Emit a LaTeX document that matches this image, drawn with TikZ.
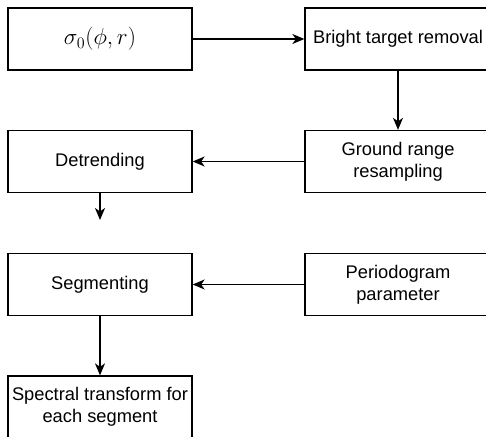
\documentclass[tikz,border=0pt]{standalone}
\usepackage{graphicx}
\usepackage{fontspec}
\setmainfont{Liberation Sans}
\usetikzlibrary{arrows.meta}
\begin{document}
\begin{tikzpicture}[x=1pt,y=-1pt,
  box/.style={draw=black,line width=1.3pt,minimum height=62pt,inner sep=2pt,
    align=center,font=\fontsize{18.3}{22}\selectfont},
  lbox/.style={box,minimum width=184pt},
  rbox/.style={box,minimum width=186pt},
  flow/.style={draw=black,line width=1.3pt,-{Stealth[length=12pt,width=10pt,inset=3.5pt]}}]
  \useasboundingbox (0,0) rectangle (486,436);
  \clip (0,0) rectangle (486,436);
  % processing chain
  \node[lbox] (src) at (100,39) {\resizebox{72pt}{!}{$\sigma_0(\phi,r)$}};
  \node[rbox] (bright) at (398,39) {Bright target removal};
  \node[rbox] (ground) at (398,161.5) {Ground range\\resampling};
  \node[lbox] (detrend) at (100,161.5) {Detrending};
  \coordinate (dtend) at (100,220);
  \node[lbox] (segment) at (100,284.5) {Segmenting};
  \node[rbox] (period) at (398,284.5) {Periodogram\\parameter};
  \node[lbox] (spectral) at (100,407) {Spectral transform for\\each segment};
  % connectors
  \draw[flow] (src) -- (bright);
  \draw[flow] (bright) -- (ground);
  \draw[flow] (ground) -- (detrend);
  \draw[flow] (detrend) -- (dtend);
  \draw[flow] (period) -- (segment);
  \draw[flow] (segment) -- (spectral);
\end{tikzpicture}
\end{document}
